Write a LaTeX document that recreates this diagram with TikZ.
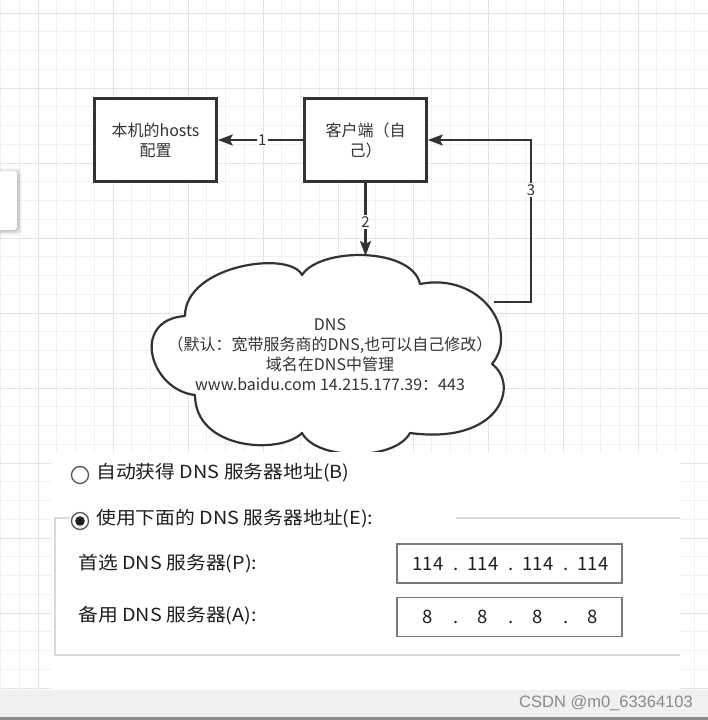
\documentclass[tikz,border=0pt]{standalone}
\usepackage{fontspec}
\setmainfont{Noto Sans CJK SC}
\newfontfamily\wmfont{Liberation Sans}
\usetikzlibrary{arrows.meta}
\definecolor{ink}{HTML}{333333}
\definecolor{gridminor}{HTML}{F0F0F0}
\definecolor{gridmajor}{HTML}{E3E3E3}
\definecolor{panelline}{HTML}{DADADA}
\definecolor{fieldline}{HTML}{7A7A7A}
\definecolor{striptone}{HTML}{F0F0F0}
\definecolor{stripbar}{HTML}{8C8C8C}
\definecolor{paneltext}{HTML}{1E1E1E}
\definecolor{radioline}{HTML}{555555}
\definecolor{wmark}{HTML}{8A8A8A}
\newcommand{\widetext}[1]{\scalebox{1.1}[1]{#1}}
\tikzset{
  proc/.style={draw=ink, line width=2.6pt, fill=white, minimum width=122pt, minimum height=83pt,
    align=center, text=ink, font=\fontsize{16}{20}\selectfont, inner sep=0pt},
  conn/.style={draw=ink, line width=2.2pt, -{Stealth[length=15pt,width=11pt,inset=3pt]}},
  elabel/.style={fill=white, text=ink, font=\fontsize{15}{18}\selectfont, inner sep=1.5pt},
  uitext/.style={text=paneltext, font=\fontsize{18}{20}\selectfont, anchor=west, inner sep=0pt},
  ipnum/.style={text=paneltext, font=\fontsize{18.5}{20}\selectfont, inner sep=0pt, anchor=base},
  field/.style={draw=fieldline, line width=1.3pt, fill=white},
  radio/.style={draw=radioline, line width=1.3pt, fill=white},
}
\begin{document}
\begin{tikzpicture}[x=1pt,y=-1pt]
\useasboundingbox (0,0) rectangle (708,720);
\fill[white] (0,0) rectangle (708,720);
\begin{scope}
  \clip (0,0) rectangle (708,720);
  % grid
  \foreach \i in {0,...,38} { \draw[gridminor, line width=1pt] ({0.5+18.75*\i},0) -- ++(0,720); }
  \foreach \j in {-1,...,38} { \draw[gridminor, line width=1pt] (0,{13+18.75*\j}) -- ++(708,0); }
  \foreach \i in {-1,...,9} { \draw[gridmajor, line width=1pt] ({38+75*\i},0) -- ++(0,720); }
  \foreach \j in {0,...,9} { \draw[gridmajor, line width=1pt] (0,{13+75*\j}) -- ++(708,0); }
  % truncated side panel with shadow
  \foreach \k/\o in {5/0.03,4/0.04,3/0.05,2/0.06,1/0.08} {
    \fill[black, opacity=\o, rounded corners=4pt] (-20,{171-\k+2}) rectangle ({17+\k},{230+\k});
  }
  \fill[white, rounded corners=3pt] (-20,171) rectangle (17,230);
\end{scope}

% cloud
\path[draw=ink, line width=2.2pt, fill=white, line join=round] (185,316)
  .. controls (185,265) and (290,250) .. (302,275)
  .. controls (320,247) and (412,247) .. (420,284)
  .. controls (480,272) and (520,330) .. (492,364)
  .. controls (520,385) and (500,445) .. (410,433)
  .. controls (395,461) and (317,461) .. (302,433)
  .. controls (280,455) and (195,450) .. (195,395)
  .. controls (150,390) and (130,320) .. (185,316) -- cycle;
\node[align=center, text=ink, font=\fontsize{16}{20}\selectfont, inner sep=0pt] (dns) at (330,355)
  {DNS\\（默认：宽带服务商的DNS,也可以自己修改）\\域名在DNS中管理\\www.baidu.com 14.215.177.39：443};
\coordinate (cloudtop) at (365.5,256);
\coordinate (cloudright) at (494,302);
\coordinate (bendA) at (531,302);
\coordinate (bendB) at (531,140);

% boxes
\node[proc] (hosts) at (155.5,140) {本机的hosts\\配置};
\node[proc] (client) at (365.5,140) {客户端（自\\己）};

% connectors
\draw[conn] (client.west) -- (hosts.east) node[elabel, pos=0.48] (l1) {1};
\draw[conn] (client.south) -- (cloudtop) node[elabel, pos=0.53] (l2) {2};
\draw[conn] (cloudright) -- (bendA) -- (bendB) -- (client.east);
\node[elabel] (l3) at (531,190) {3};

% settings panel
\fill[white] (52,452) rectangle (680,690);
\draw[panelline, line width=1.3pt] (70,518) -- (55,518) -- (55,655) -- (680,655);
\draw[panelline, line width=1.3pt] (456,518) -- (680,518);
\draw[radio] (80,475) circle (8.5pt);
\node[uitext] (opt1) at (96,473) {\widetext{自动获得 DNS 服务器地址(B)}};
\draw[radio] (80,521) circle (8.5pt);
\fill[paneltext] (80,521) circle (4.8pt);
\node[uitext] (opt2) at (96,519) {\widetext{使用下面的 DNS 服务器地址(E):}};
\node[uitext] (pref) at (78,564) {\widetext{首选 DNS 服务器(P):}};
\node[uitext] (alt) at (78,616) {\widetext{备用 DNS 服务器(A):}};
\node[field, minimum width=225pt, minimum height=39pt, inner sep=0pt] (prefbox) at (509.5,563.5) {};
\node[field, minimum width=225pt, minimum height=39pt, inner sep=0pt] (altbox) at (509.5,617) {};
\foreach \x/\n in {428/1,483/2,538/3,593/4} {
  \node[ipnum] (pa\n) at (\x,570) {114};
  \node[ipnum] (pb\n) at (\x,623.5) {8};
}
\foreach \x/\n in {456/1,511/2,566/3} {
  \node[ipnum] (da\n) at (\x,570) {.};
  \node[ipnum] (db\n) at (\x,623.5) {.};
}

% bottom strip
\fill[striptone] (0,690) rectangle (708,717);
\fill[stripbar] (0,717) rectangle (708,720);
\node[anchor=east, text=wmark, font=\wmfont\fontsize{16.5}{18}\selectfont, inner sep=0pt] (wm) at (693,703) {CSDN @m0\_63364103};
\end{tikzpicture}
\end{document}
